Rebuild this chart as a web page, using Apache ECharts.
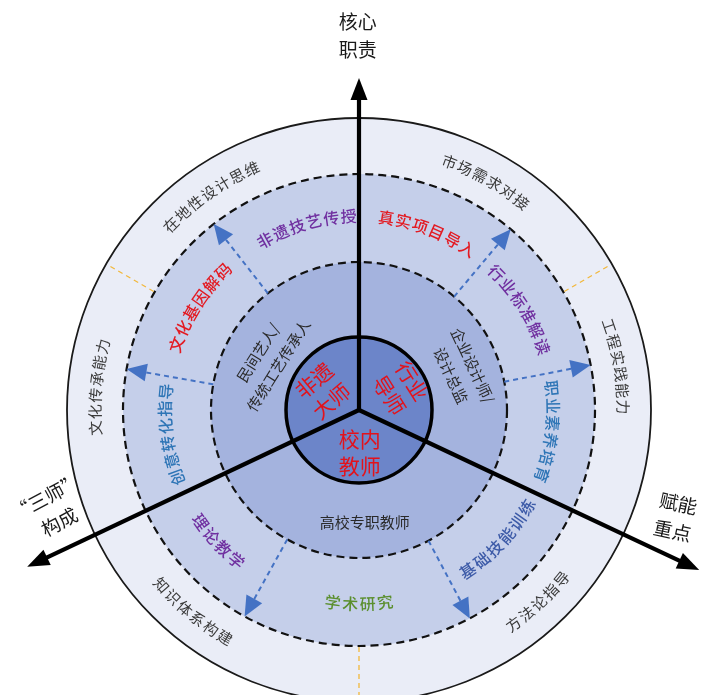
<!DOCTYPE html>
<html><head><meta charset="utf-8">
<script src="https://cdn.jsdelivr.net/npm/echarts@6/dist/echarts.min.js"></script>
<style>html,body{margin:0;padding:0;background:#fff}#c{width:702px;height:695px}</style>
</head><body><div id="c"></div>
<script>
// ---------- data ----------
const ringRadii = [292, 236, 148, 73];            // outer ring, mid ring, inner ring, core circle
const axisAngles = [90, 205.3, 334.8];            // the three thick axes (deg, 0 = east, CCW)
const axisLengths = [332, 367, 376];
const axisLabels = ['核心\n职责', '“三师”\n构成', '赋能\n重点'];
const axisLabelAngles = [90.2, 198, 341.3];
const axisLabelRadii = [374, 322, 334];
const dividerAngles = [30, 150, 270];             // yellow dashed dividers in outer ring
const arrowAngles = [128, 170, 50, 11, 241, 298]; // blue dashed arrows
const outerLabels = ['在地性设计思维', '市场需求对接', '工程实践能力', '方法论指导', '知识体系构建', '文化传承能力'];
const outerAngles = [124.7, 61, 9.6, 313, 230.5, 175];
const midLabels = ['非遗技艺传授', '真实项目导入', '行业标准解读', '职业素养培育', '基础技能训练', '学术研究', '理论教学', '创意转化指导', '文化基因解码'];
const midAngles = [106, 69, 32, 353.5, 317, 270, 223, 187.4, 147.3];
const innerLabels = ['民间艺人/\n传统工艺传承人', '企业设计师/\n设计总监', '高校专职教师'];
const innerAngles = [150.7, 21, 273];
const innerRadii = [104, 110, 112];
const coreLabels = ['非遗\n大师', '行业\n导师', '校内\n教师'];
const coreAngles = [152, 27.6, 271];
const coreRadii = [41, 47, 43];

// ---------- styles ----------
const FONT = '"Noto Sans CJK SC", "Noto Sans", sans-serif';
const ringStyles = [
  {fill: '#eaedf7', stroke: '#1a1a1a', lineWidth: 1.8, lineDash: null},
  {fill: '#c5cfea', stroke: '#111', lineWidth: 2.2, lineDash: [8, 5]},
  {fill: '#a4b3de', stroke: '#111', lineWidth: 2.2, lineDash: [8, 5]},
  {fill: '#6c85c9', stroke: '#000', lineWidth: 3.5, lineDash: null}
];
const midPalette = {purple: '#7030a0', red: '#e31b23', blue: '#2e75b6', navy: '#3d5ba8', green: '#5b8f2e'};
const midColorKey = ['purple', 'red', 'purple', 'blue', 'navy', 'green', 'purple', 'blue', 'red'];
const innerRot = [58, -65, 0];
const coreRot = [40, -58, 0];
const axisLabelRot = [0, 28, -12];

function norm(a) { return ((a % 360) + 360) % 360; }
function rad(d) { return d * Math.PI / 180; }

function curvedSeries(texts, angles, radius, fontSize, spacing, colorOf, weight) {
  return {
    type: 'custom', coordinateSystem: 'polar', silent: true, z: 5,
    data: angles.map(a => [radius, a]),
    renderItem(params, api) {
      const i = params.dataIndex;
      const a0 = angles[i];
      const cw = (a0 <= 200 || a0 >= 345);
      const chars = Array.from(texts[i]);
      const n = chars.length;
      const c0 = api.coord([0, 0]);
      const rpx = api.coord([radius, 0])[0] - c0[0];
      return {
        type: 'group',
        children: chars.map((ch, k) => {
          const s = (k - (n - 1) / 2) * spacing;
          const d = s / rpx * 180 / Math.PI;
          const a = cw ? a0 - d : a0 + d;
          const p = api.coord([radius, norm(a)]);
          return {
            type: 'text', x: p[0], y: p[1], rotation: rad(cw ? a - 90 : a + 90),
            style: {text: ch, fill: colorOf(i), fontSize: fontSize, fontFamily: FONT, fontWeight: weight,
                    align: 'center', verticalAlign: 'middle'}
          };
        })
      };
    }
  };
}

function straightSeries(texts, angles, radii, rots, fontSize, lineHeight, color) {
  return {
    type: 'custom', coordinateSystem: 'polar', silent: true, z: 6,
    data: angles.map((a, i) => [radii[i], a]),
    renderItem(params, api) {
      const i = params.dataIndex;
      const p = api.coord([radii[i], norm(angles[i])]);
      return {
        type: 'text', x: p[0], y: p[1], rotation: rad(rots[i]),
        style: {text: texts[i], fill: color, fontSize: fontSize, fontFamily: FONT, lineHeight: lineHeight,
                align: 'center', verticalAlign: 'middle'}
      };
    }
  };
}

function arrowHead(api, tipR, a, len, half) {
  const tip = api.coord([tipR, norm(a)]);
  const base = api.coord([tipR - len, norm(a)]);
  const ux = tip[0] - base[0], uy = tip[1] - base[1];
  const L = Math.hypot(ux, uy);
  const px = -uy / L * half, py = ux / L * half;
  return [tip, [base[0] + px, base[1] + py], [base[0] - px, base[1] - py]];
}

const option = {
  animation: false,
  backgroundColor: '#fff',
  polar: {center: [359, 410], radius: 292},
  angleAxis: {type: 'value', min: 0, max: 360, startAngle: 0, clockwise: false, show: false},
  radiusAxis: {type: 'value', min: 0, max: 292, show: false},
  series: [
    { // rings
      type: 'custom', coordinateSystem: 'polar', silent: true, z: 1,
      data: ringRadii.map(r => [r, 0]),
      renderItem(params, api) {
        const i = params.dataIndex;
        const c = api.coord([0, 0]);
        const r = api.coord([ringRadii[i], 0])[0] - c[0];
        const st = ringStyles[i];
        return {type: 'circle', z2: i, shape: {cx: c[0], cy: c[1], r: r},
                style: {fill: st.fill, stroke: st.stroke, lineWidth: st.lineWidth, lineDash: st.lineDash}};
      }
    },
    { // yellow dividers
      type: 'custom', coordinateSystem: 'polar', silent: true, z: 2,
      data: dividerAngles.map(a => [ringRadii[0], a]),
      renderItem(params, api) {
        const a = dividerAngles[params.dataIndex];
        const p1 = api.coord([ringRadii[1] + 1, a]);
        const p2 = api.coord([ringRadii[0] - 1, a]);
        return {type: 'line', shape: {x1: p1[0], y1: p1[1], x2: p2[0], y2: p2[1]},
                style: {stroke: '#f2b83c', lineWidth: 1.3, lineDash: [5, 4]}};
      }
    },
    { // blue dashed arrows
      type: 'custom', coordinateSystem: 'polar', silent: true, z: 3,
      data: arrowAngles.map(a => [ringRadii[1], a]),
      renderItem(params, api) {
        const a = arrowAngles[params.dataIndex];
        const p1 = api.coord([ringRadii[2], a]);
        const p2 = api.coord([ringRadii[1] - 17, a]);
        return {type: 'group', children: [
          {type: 'line', shape: {x1: p1[0], y1: p1[1], x2: p2[0], y2: p2[1]},
           style: {stroke: '#4472c4', lineWidth: 2, lineDash: [5, 4]}},
          {type: 'polygon', shape: {points: arrowHead(api, ringRadii[1], a, 20, 9)},
           style: {fill: '#4472c4'}}
        ]};
      }
    },
    { // thick axes
      type: 'custom', coordinateSystem: 'polar', silent: true, z: 4,
      data: axisAngles.map((a, i) => [axisLengths[i], a]),
      renderItem(params, api) {
        const i = params.dataIndex;
        const a = axisAngles[i];
        const c = api.coord([0, 0]);
        const e = api.coord([axisLengths[i] - 18, norm(a)]);
        return {type: 'group', children: [
          {type: 'line', shape: {x1: c[0], y1: c[1], x2: e[0], y2: e[1]},
           style: {stroke: '#000', lineWidth: 4.2}},
          {type: 'polygon', shape: {points: arrowHead(api, axisLengths[i], a, 22, 8.5)},
           style: {fill: '#000'}}
        ]};
      }
    },
    curvedSeries(outerLabels, outerAngles, 264, 15, 16.5, () => '#3a3a3a', 'normal'),
    curvedSeries(midLabels, midAngles, 194, 16, 17.5, i => midPalette[midColorKey[i]], 500),
    straightSeries(innerLabels, innerAngles, innerRadii, innerRot, 15, 24, '#2a2a2a'),
    straightSeries(coreLabels, coreAngles, coreRadii, coreRot, 21, 27, '#e3121b'),
    straightSeries(axisLabels, axisLabelAngles, axisLabelRadii, axisLabelRot, 19, 28, '#1a1a1a')
  ]
};
const chart = echarts.init(document.getElementById('c'));
chart.setOption(option);
</script>
</body></html>
